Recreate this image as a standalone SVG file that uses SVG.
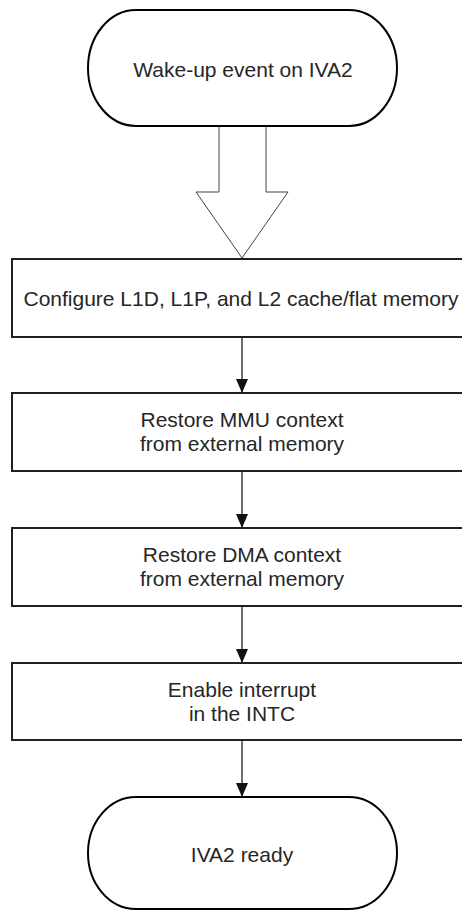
<svg xmlns="http://www.w3.org/2000/svg" width="462" height="911" viewBox="0 0 462 911">
<defs>
<style>
.box{fill:#fff;stroke:#231f20;stroke-width:2}
.term{fill:#fff;stroke:#000;stroke-width:2}
.lbl{font-family:"Liberation Sans",Arial,sans-serif;font-size:21px;fill:#262626;text-anchor:middle}
.conn{stroke:#4a4a4a;stroke-width:1.6;fill:none}
.block{fill:#fff;stroke:#444;stroke-width:1}
</style>
<marker id="ah" viewBox="0 0 14 12" refX="14" refY="6" markerWidth="14" markerHeight="12" markerUnits="userSpaceOnUse" orient="auto">
<path d="M0,0 L14,6 L0,12 Z" fill="#111"/>
</marker>
</defs>
<rect width="462" height="911" fill="#fff"/>
<g id="connectors">
<path class="block" d="M219,126 L219,192 L196,192 L242,258 L288,192 L266,192 L266,126"/>
<line class="conn" x1="242" y1="338" x2="242" y2="393" marker-end="url(#ah)"/>
<line class="conn" x1="242" y1="472" x2="242" y2="528" marker-end="url(#ah)"/>
<line class="conn" x1="242" y1="607" x2="242" y2="663" marker-end="url(#ah)"/>
<line class="conn" x1="242" y1="741" x2="242" y2="797" marker-end="url(#ah)"/>
</g>
<g id="start">
<rect class="term" x="88" y="10" width="309" height="116" rx="48" ry="58"/>
<text class="lbl" x="243" y="77">Wake-up event on IVA2</text>
</g>
<g id="configure">
<rect class="box" x="12" y="259" width="470" height="78"/>
<text class="lbl" x="241" y="306">Configure L1D, L1P, and L2 cache/flat memory</text>
</g>
<g id="mmu">
<rect class="box" x="12" y="393" width="470" height="78"/>
<text class="lbl" x="242" y="427">Restore MMU context</text>
<text class="lbl" x="242" y="451">from external memory</text>
</g>
<g id="dma">
<rect class="box" x="12" y="528" width="470" height="78"/>
<text class="lbl" x="242" y="562">Restore DMA context</text>
<text class="lbl" x="242" y="586">from external memory</text>
</g>
<g id="intc">
<rect class="box" x="12" y="663" width="470" height="77"/>
<text class="lbl" x="242" y="697">Enable interrupt</text>
<text class="lbl" x="242" y="721">in the INTC</text>
</g>
<g id="ready">
<rect class="term" x="88" y="797" width="309" height="112" rx="48" ry="56"/>
<text class="lbl" x="242" y="862">IVA2 ready</text>
</g>
</svg>
